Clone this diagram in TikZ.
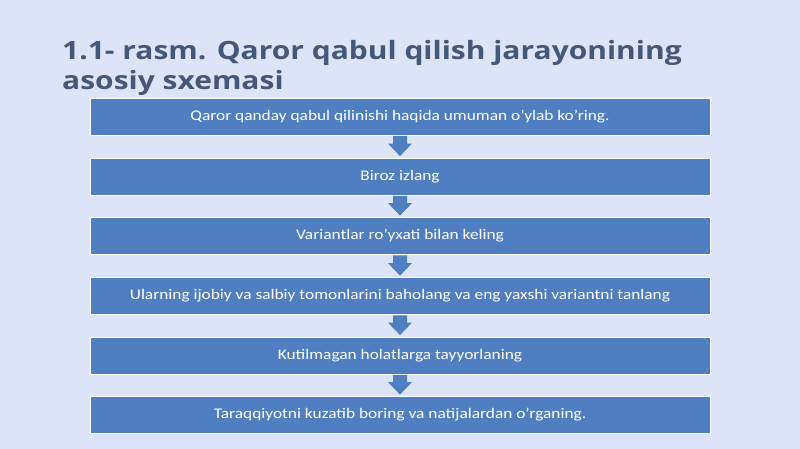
\documentclass[tikz,border=0pt]{standalone}
\usepackage{fontspec}
\setmainfont{Carlito}[FakeStretch=1.18]
\newfontfamily\titlefont{Open Sans}[FakeStretch=1.19]
\usetikzlibrary{calc}
\definecolor{bgc}{HTML}{DDE4F7}
\definecolor{boxc}{HTML}{4F7FC0}
\definecolor{titc}{HTML}{46587A}
\tikzset{
  stepbox/.style={draw=white, line width=0.8pt, fill=boxc, minimum width=620pt, minimum height=37pt, inner sep=0pt, text=white, font=\fontsize{14.7}{16}\selectfont},
  flowarrow/.style={fill=boxc, draw=none}
}
\begin{document}
\begin{tikzpicture}[x=1pt,y=-1pt]
\fill[bgc] (0,0) rectangle (800,449);
\useasboundingbox (0,0) rectangle (800,449);
\node[anchor=base west, text=titc, font=\titlefont\bfseries\fontsize{25.2}{30}\selectfont, align=left, inner sep=0pt] (title) at (62,90) {1.1- rasm. Qaror qabul qilish jarayonining\\asosiy sxemasi};
\node[stepbox] (b1) at (400,116.5) {Qaror qanday qabul qilinishi haqida umuman o'ylab ko'ring.};
\node[stepbox] (b2) at (400,176.5) {Biroz izlang};
\node[stepbox] (b3) at (400,236) {Variantlar ro'yxati bilan keling};
\node[stepbox] (b4) at (400,296) {Ularning ijobiy va salbiy tomonlarini baholang va eng yaxshi variantni tanlang};
\node[stepbox] (b5) at (400,355.5) {Kutilmagan holatlarga tayyorlaning};
\node[stepbox] (b6) at (400,415) {Taraqqiyotni kuzatib boring va natijalardan o'rganing.};
\foreach \a/\b in {b1/b2,b2/b3,b3/b4,b4/b5,b5/b6}{
  \fill[flowarrow] ($(\a.south)+(-7,0.5)$) -- ($(\b.north)+(-7,-14)$) -- ($(\b.north)+(-12,-14)$)
    -- ($(\b.north)+(0,-1.5)$) -- ($(\b.north)+(12,-14)$) -- ($(\b.north)+(7,-14)$)
    -- ($(\a.south)+(7,0.5)$) -- cycle;
}
\end{tikzpicture}
\end{document}
